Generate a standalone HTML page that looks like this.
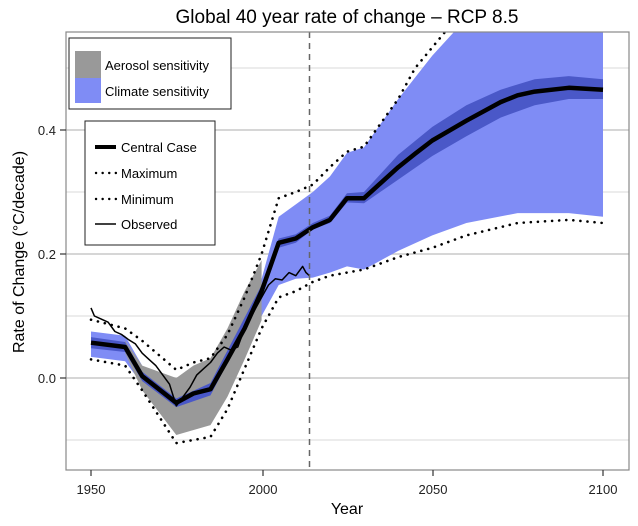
<!DOCTYPE html>
<html><head><meta charset="utf-8"><style>
body{margin:0;background:#fff;width:638px;height:521px;overflow:hidden}
svg text{font-family:"Liberation Sans",sans-serif}
</style></head><body>
<svg id="s" width="638" height="521" xmlns="http://www.w3.org/2000/svg">
<defs><clipPath id="cp"><rect x="66" y="32" width="563" height="438"/></clipPath></defs>
<rect width="638" height="521" fill="#fff"/>
<g stroke="#e6e6e6" stroke-width="1.5">
<line x1="66" x2="629" y1="68" y2="68"/><line x1="66" x2="629" y1="192" y2="192"/>
<line x1="66" x2="629" y1="316" y2="316"/><line x1="66" x2="629" y1="440" y2="440"/>
</g>
<g stroke="#c8c8c8" stroke-width="1.5">
<line x1="66" x2="629" y1="130" y2="130"/><line x1="66" x2="629" y1="254" y2="254"/><line x1="66" x2="629" y1="378" y2="378"/>
</g>
<g id="data" clip-path="url(#cp)"></g>
<line x1="309.5" x2="309.5" y1="32" y2="470" stroke="#666" stroke-width="1.5" stroke-dasharray="6,5"/>
<rect x="66" y="32" width="563" height="438" fill="none" stroke="#888" stroke-width="1.2"/>
<g stroke="#333" stroke-width="1.2">
<line x1="60" x2="66" y1="130" y2="130"/><line x1="60" x2="66" y1="254" y2="254"/><line x1="60" x2="66" y1="378" y2="378"/>
<line x1="91" x2="91" y1="470" y2="476"/><line x1="263" x2="263" y1="470" y2="476"/><line x1="433" x2="433" y1="470" y2="476"/><line x1="603" x2="603" y1="470" y2="476"/>
</g>
<g font-size="13" fill="#222">
<text x="56" y="135" text-anchor="end">0.4</text><text x="56" y="259" text-anchor="end">0.2</text><text x="56" y="383" text-anchor="end">0.0</text>
<text x="91" y="494" text-anchor="middle">1950</text><text x="263" y="494" text-anchor="middle">2000</text><text x="433" y="494" text-anchor="middle">2050</text><text x="603" y="494" text-anchor="middle">2100</text>
</g>
<text x="347" y="514" font-size="16" text-anchor="middle">Year</text>
<text transform="translate(24,252) rotate(-90)" font-size="16" text-anchor="middle">Rate of Change (°C/decade)</text>
<text x="347" y="23" font-size="19" text-anchor="middle">Global 40 year rate of change – RCP 8.5</text>
<rect x="69" y="38" width="162" height="71" fill="#fff" stroke="#222" stroke-width="1"/>
<rect x="75" y="51" width="26" height="27" fill="#999"/>
<rect x="75" y="78" width="26" height="25" fill="#7f8cf5"/>
<text x="105" y="70" font-size="13">Aerosol sensitivity</text>
<text x="105" y="96" font-size="13">Climate sensitivity</text>
<rect x="85" y="121" width="130" height="124" fill="#fff" stroke="#222" stroke-width="1"/>
<line x1="95" x2="116" y1="147" y2="147" stroke="#000" stroke-width="4"/>
<line x1="96" x2="116" y1="173" y2="173" stroke="#000" stroke-width="2.4" stroke-dasharray="0.1,6.5" stroke-linecap="round"/>
<line x1="96" x2="116" y1="199" y2="199" stroke="#000" stroke-width="2.4" stroke-dasharray="0.1,6.5" stroke-linecap="round"/>
<line x1="95" x2="116" y1="224" y2="224" stroke="#000" stroke-width="1.5"/>
<text x="121" y="152" font-size="13">Central Case</text>
<text x="121" y="178" font-size="13">Maximum</text>
<text x="121" y="204" font-size="13">Minimum</text>
<text x="121" y="229" font-size="13">Observed</text>
</svg>
<script>
const X=y=>91+(y-1950)*3.413, Y=v=>378-620*v;
const pts=a=>a.map(p=>X(p[0]).toFixed(1)+","+Y(p[1]).toFixed(1)).join(" ");
const g=document.getElementById("data");
function poly(up,lo,fill){const a=up.concat(lo.slice().reverse());g.insertAdjacentHTML("beforeend",`<polygon points="${pts(a)}" fill="${fill}"/>`);}
function line(a,sw,extra){g.insertAdjacentHTML("beforeend",`<polyline points="${pts(a)}" fill="none" stroke="#000" stroke-width="${sw}" stroke-linejoin="round" ${extra||""}/>`);}
poly([[1950,0.075],[1960,0.068],[1965,0.02],[1975,-0.025],[1985,-0.005],[1990,0.05],[2000,0.16],[2005,0.26],[2010,0.28],[2015,0.30],[2020,0.325],[2025,0.363],[2030,0.372],[2040,0.45],[2050,0.52],[2060,0.58],[2100,0.58]],
 [[1950,0.034],[1960,0.027],[1965,-0.01],[1975,-0.05],[1985,-0.035],[1990,0.0],[2000,0.1],[2005,0.15],[2010,0.16],[2015,0.162],[2020,0.17],[2025,0.18],[2030,0.175],[2040,0.205],[2050,0.23],[2060,0.25],[2075,0.266],[2090,0.266],[2100,0.26]],"#7f8cf5");
poly([[1960,0.06],[1965,0.02],[1975,0.0],[1980,0.02],[1985,0.032],[1990,0.08],[1995,0.14],[2000,0.19]],
 [[1960,0.04],[1965,-0.02],[1975,-0.092],[1985,-0.076],[1990,-0.03],[1995,0.03],[2000,0.093]],"#999");
poly([[1950,0.066],[1960,0.058],[1965,0.01],[1975,-0.033],[1985,-0.008],[2000,0.15],[2005,0.225],[2010,0.232],[2015,0.25],[2020,0.262],[2025,0.298],[2030,0.3],[2040,0.36],[2050,0.405],[2060,0.44],[2070,0.465],[2080,0.482],[2090,0.487],[2100,0.482]],
 [[1950,0.048],[1960,0.042],[1965,-0.005],[1975,-0.047],[1985,-0.028],[2000,0.13],[2005,0.21],[2010,0.218],[2015,0.24],[2020,0.25],[2025,0.283],[2030,0.282],[2040,0.32],[2050,0.358],[2060,0.39],[2070,0.42],[2080,0.44],[2090,0.45],[2100,0.45]],"#4a58c8");
line([[1950,0.113],[1951,0.1],[1953,0.095],[1955,0.09],[1957,0.075],[1959,0.07],[1961,0.062],[1963,0.055],[1965,0.04],[1967,0.03],[1969,0.02],[1971,0.005],[1973,-0.01],[1975,-0.045],[1977,-0.03],[1979,-0.015],[1981,0.005],[1983,0.015],[1985,0.025],[1987,0.04],[1989,0.05],[1991,0.045],[1993,0.05],[1995,0.08],[1997,0.1],[1998,0.11],[2000,0.13],[2002,0.15],[2004,0.16],[2006,0.158],[2008,0.17],[2010,0.165],[2012,0.18],[2013,0.17],[2014,0.165]],1.5);
line([[1950,0.057],[1960,0.05],[1965,0.003],[1975,-0.04],[1980,-0.025],[1985,-0.018],[1990,0.03],[1995,0.08],[2000,0.14],[2005,0.218],[2010,0.225],[2015,0.243],[2020,0.255],[2025,0.29],[2030,0.29],[2035,0.315],[2040,0.34],[2045,0.362],[2050,0.383],[2060,0.415],[2070,0.445],[2075,0.456],[2080,0.462],[2090,0.468],[2100,0.465]],4.5);
const dot='stroke-dasharray="0.1,7" stroke-linecap="round"';
line([[1950,0.094],[1960,0.08],[1965,0.06],[1975,0.013],[1980,0.025],[1985,0.032],[1990,0.07],[1995,0.13],[2000,0.2],[2005,0.29],[2010,0.3],[2015,0.312],[2020,0.34],[2025,0.365],[2030,0.373],[2040,0.45],[2045,0.5],[2054,0.56]],2.6,dot);
line([[1950,0.03],[1960,0.02],[1965,-0.02],[1975,-0.105],[1985,-0.095],[1990,-0.05],[2000,0.08],[2005,0.13],[2010,0.14],[2015,0.155],[2020,0.165],[2030,0.175],[2040,0.195],[2050,0.21],[2060,0.23],[2075,0.25],[2090,0.255],[2100,0.25]],2.6,dot);
</script>
</body></html>
